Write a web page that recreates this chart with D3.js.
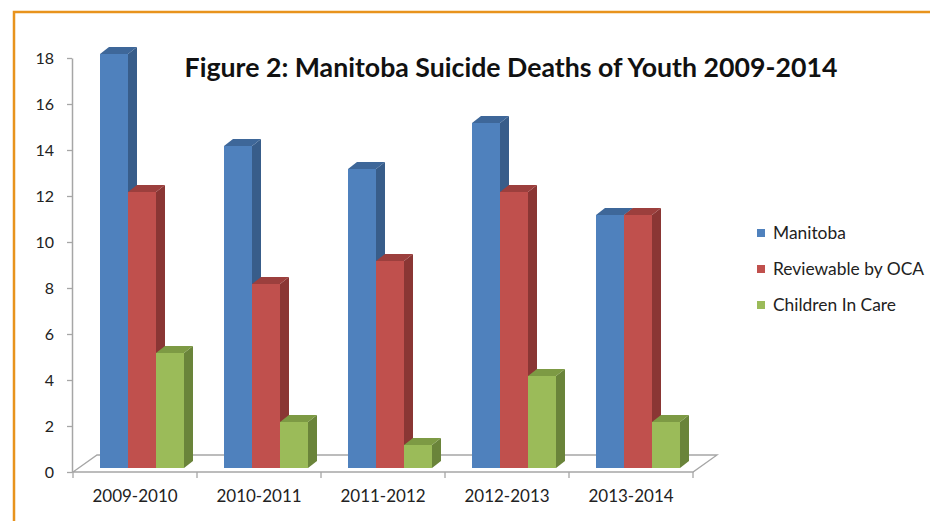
<!DOCTYPE html>
<html>
<head>
<meta charset="utf-8">
<script src="https://cdn.jsdelivr.net/npm/d3@7"></script>
<style>
  html, body { margin: 0; padding: 0; background: #fff; }
  svg { display: block; font-family: Lato, "Open Sans", sans-serif; }
</style>
</head>
<body>
<div id="chart"></div>
<script>
const categories = ["2009-2010", "2010-2011", "2011-2012", "2012-2013", "2013-2014"];
const seriesNames = ["Manitoba", "Reviewable by OCA", "Children In Care"];
const manitoba = [18, 14, 13, 15, 11];
const reviewable = [12, 8, 9, 12, 11];
const childrenInCare = [5, 2, 1, 4, 2];
const yTicks = [0, 2, 4, 6, 8, 10, 12, 14, 16, 18];

const seriesValues = [manitoba, reviewable, childrenInCare];
const colors = [
  { front: "#4f81bd", side: "#385d8a", top: "#3e6799" },
  { front: "#c0504d", side: "#8a3634", top: "#9c3f3d" },
  { front: "#9bbb59", side: "#6a843a", top: "#7d9a44" }
];

const width = 930, height = 521;
const margin = { top: 58, right: 237, bottom: 49, left: 73 };

// floor depth and bar depth offsets (fake 3d)
const floorDx = 24, floorDy = -17;
const barDx = 9, barDy = -7;
const barShiftY = -4;

const svg = d3.select("#chart").append("svg")
  .attr("width", width)
  .attr("height", height);

// orange frame
svg.append("path")
  .attr("d", `M14,521 V12 H930`)
  .attr("fill", "none")
  .attr("stroke", "#e8931d")
  .attr("stroke-width", 2.5);

const x = d3.scaleBand()
  .domain(categories)
  .range([margin.left, width - margin.right])
  .padding(0);

const y = d3.scaleLinear()
  .domain([0, 18])
  .range([height - margin.bottom, margin.top]);

const barW = 28;
const xInner = d3.scaleBand()
  .domain(d3.range(seriesNames.length))
  .range([27, 27 + barW * seriesNames.length]);

const x0 = x.range()[0], x1 = x.range()[1], y0 = y(0);

// floor
svg.append("path")
  .attr("d", `M${x0},${y0} L${x0 + floorDx},${y0 + floorDy} L${x1 + floorDx},${y0 + floorDy} L${x1},${y0} Z`)
  .attr("fill", "none")
  .attr("stroke", "#a6a6a6")
  .attr("stroke-width", 1.3);

// bars
const barData = [];
categories.forEach((c, i) => {
  seriesValues.forEach((vals, s) => {
    barData.push({ cat: c, s, value: vals[i] });
  });
});

const bars = svg.append("g").selectAll("g")
  .data(barData)
  .join("g");

const bx = (d) => x(d.cat) + xInner(d.s);
const byTop = (d) => y(d.value) + barShiftY;
const byBot = y0 + barShiftY;

bars.append("rect")
  .attr("x", bx)
  .attr("y", byTop)
  .attr("width", barW)
  .attr("height", (d) => byBot - byTop(d))
  .attr("fill", (d) => colors[d.s].front);

bars.append("path")
  .attr("d", (d) => {
    const l = bx(d) + barW, t = byTop(d);
    return `M${l},${t} L${l + barDx},${t + barDy} L${l + barDx},${byBot + barDy} L${l},${byBot} Z`;
  })
  .attr("fill", (d) => colors[d.s].side);

bars.append("path")
  .attr("d", (d) => {
    const l = bx(d), t = byTop(d);
    return `M${l},${t} L${l + barDx},${t + barDy} L${l + barW + barDx},${t + barDy} L${l + barW},${t} Z`;
  })
  .attr("fill", (d) => colors[d.s].top);

// y axis
svg.append("g")
  .attr("transform", `translate(${margin.left - 1},0)`)
  .call(d3.axisLeft(y).tickValues(yTicks).tickSize(5).tickPadding(13).tickSizeOuter(0))
  .call((g) => g.select(".domain").attr("stroke", "#a6a6a6").attr("stroke-width", 1.5))
  .call((g) => g.selectAll(".tick line").attr("stroke", "#a6a6a6").attr("stroke-width", 1.3))
  .call((g) => g.selectAll(".tick text")
    .attr("font-size", 16)
    .attr("font-family", "Lato, sans-serif")
    .attr("fill", "#222"));

// x axis
svg.append("g")
  .attr("transform", `translate(0,${y0})`)
  .call(d3.axisBottom(x).tickSize(0).tickPadding(18).tickSizeOuter(0))
  .call((g) => g.select(".domain").remove())
  .call((g) => g.selectAll(".tick text")
    .attr("font-size", 17)
    .attr("font-family", "Lato, sans-serif")
    .attr("fill", "#222"));

// x ticks between categories
svg.append("g")
  .selectAll("line")
  .data(categories.concat(["end"]))
  .join("line")
  .attr("x1", (d, i) => i < categories.length ? x(d) : x1)
  .attr("x2", (d, i) => i < categories.length ? x(d) : x1)
  .attr("y1", y0)
  .attr("y2", y0 + 6)
  .attr("stroke", "#a6a6a6")
  .attr("stroke-width", 1.3);

// title
svg.append("text")
  .attr("x", 511)
  .attr("y", 77)
  .attr("text-anchor", "middle")
  .attr("font-weight", "bold")
  .attr("font-size", 26.7)
  .attr("fill", "#111")
  .text("Figure 2: Manitoba Suicide Deaths of Youth 2009-2014");

// legend
const legend = svg.append("g")
  .selectAll("g")
  .data(seriesNames)
  .join("g")
  .attr("transform", (d, i) => `translate(757,${233 + i * 36})`);

legend.append("rect")
  .attr("x", 0)
  .attr("y", -4)
  .attr("width", 8)
  .attr("height", 8)
  .attr("fill", (d, i) => colors[i].front);

legend.append("text")
  .attr("x", 16)
  .attr("dy", "0.35em")
  .attr("font-size", 17.4)
  .attr("fill", "#222")
  .text((d) => d);
</script>
</body>
</html>
